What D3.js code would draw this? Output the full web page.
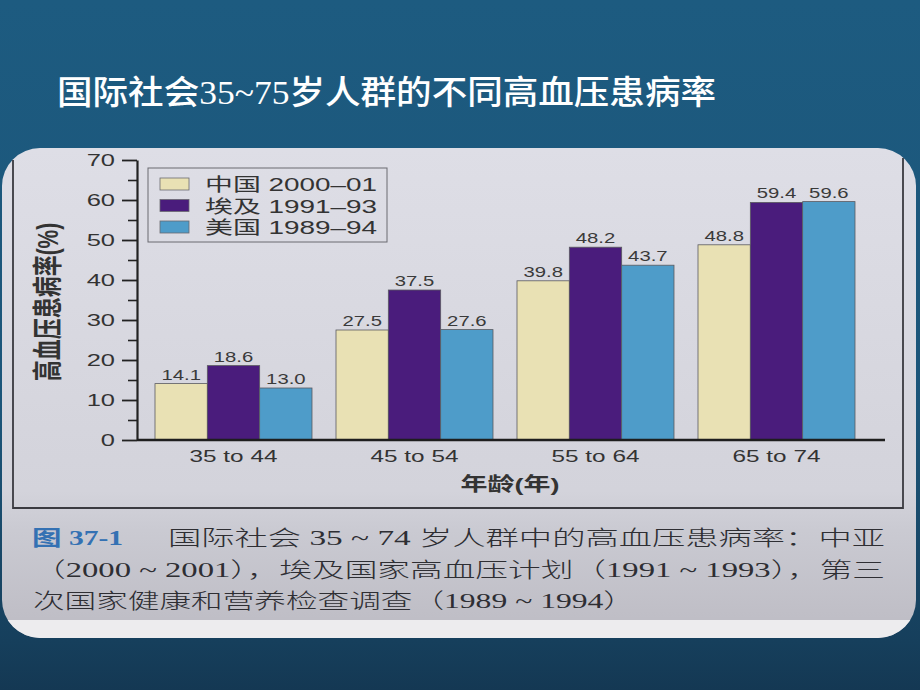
<!DOCTYPE html>
<html><head><meta charset="utf-8">
<script src="https://cdn.jsdelivr.net/npm/d3@7"></script>
<style>body{margin:0;background:#1c5a7f;} svg{display:block}</style>
</head><body>
<svg id="c" width="920" height="690"></svg>
<script>
// ---------- data ----------
const categories = ["35 to 44", "45 to 54", "55 to 64", "65 to 74"];
const seriesNames = ["中国 2000–01", "埃及 1991–93", "美国 1989–94"];
const chinaValues = [14.1, 27.5, 39.8, 48.8];
const egyptValues = [18.6, 37.5, 48.2, 59.4];
const usaValues = [13.0, 27.6, 43.7, 59.6];
const yTickValues = [0, 10, 20, 30, 40, 50, 60, 70];
const yMinorTickValues = [5, 15, 25, 35, 45, 55, 65];
const seriesColors = ["#e9e1b4", "#4a1c7c", "#4e9cc9"];
const titleText = "国际社会35~75岁人群的不同高血压患病率";
const yAxisTitle = "高血压患病率(%)";
const xAxisTitle = "年龄(年)";
const captionLabel = "图 37-1";
const captionLine1 = "国际社会 35 ~ 74 岁人群中的高血压患病率：中亚";
const captionLine2 = "（2000 ~ 2001），埃及国家高血压计划（1991 ~ 1993），第三";
const captionLine3 = "次国家健康和营养检查调查（1989 ~ 1994）";

const seriesValues = [chinaValues, egyptValues, usaValues];
const series = seriesNames.map((name, i) => ({name, color: seriesColors[i], values: seriesValues[i]}));

// ---------- canvas ----------
const svg = d3.select("#c");
const defs = svg.append("defs");
const bg = defs.append("linearGradient").attr("id", "bg").attr("x1", 0).attr("y1", 0).attr("x2", 0).attr("y2", 1);
bg.append("stop").attr("offset", "0%").attr("stop-color", "#1d5b80");
bg.append("stop").attr("offset", "60%").attr("stop-color", "#1b5579");
bg.append("stop").attr("offset", "93%").attr("stop-color", "#163f5c");
bg.append("stop").attr("offset", "100%").attr("stop-color", "#143853");
const pg = defs.append("linearGradient").attr("id", "pg").attr("x1", 0).attr("y1", 0).attr("x2", 0).attr("y2", 1);
pg.append("stop").attr("offset", "0%").attr("stop-color", "#dedee6");
pg.append("stop").attr("offset", "70%").attr("stop-color", "#d3d3db");
pg.append("stop").attr("offset", "78%").attr("stop-color", "#cacad2");
pg.append("stop").attr("offset", "96%").attr("stop-color", "#bfbec6");
defs.append("clipPath").attr("id", "panelClip")
  .append("rect").attr("x", 2).attr("y", 148).attr("width", 914).attr("height", 490).attr("rx", 38);

svg.append("rect").attr("width", 920).attr("height", 690).attr("fill", "url(#bg)");

// title
svg.append("text").attr("x", 57).attr("y", 104)
  .attr("font-family", "'Liberation Serif','Noto Sans CJK SC'")
  .attr("font-size", 33).attr("font-weight", 500).attr("fill", "#ffffff")
  .attr("textLength", 659).attr("lengthAdjust", "spacingAndGlyphs")
  .text(titleText);

// panel
const panel = svg.append("g").attr("clip-path", "url(#panelClip)");
panel.append("rect").attr("x", 2).attr("y", 148).attr("width", 914).attr("height", 490).attr("fill", "url(#pg)");
panel.append("rect").attr("x", 2).attr("y", 620).attr("width", 914).attr("height", 18).attr("fill", "#edecee");

// frame lines
const frame = svg.append("g").attr("stroke", "#3a3a40").attr("stroke-width", 1.8).attr("fill", "none");
frame.append("path").attr("d", "M13,160V508H903V158");

// ---------- scales ----------
const x0 = d3.scaleBand().domain(categories).range([131, 879]).paddingInner(0.1326).paddingOuter(0.1326);
const x1 = d3.scaleBand().domain(seriesNames).range([0, x0.bandwidth()]);
const y = d3.scaleLinear().domain([0, 70]).range([440, 160]);
const axisX = 137, plotRight = 885;

const sans = "'Liberation Sans', Arial, 'Noto Sans CJK SC'";

// y axis
const gy = svg.append("g").attr("transform", `translate(${axisX},0)`)
  .call(d3.axisLeft(y).tickValues(yTickValues).tickSize(15).tickSizeOuter(0).tickPadding(7));
gy.select(".domain").attr("stroke", "#222").attr("stroke-width", 2.2);
gy.selectAll(".tick line").attr("stroke", "#222").attr("stroke-width", 1.8);
gy.selectAll(".tick text")
  .attr("font-family", sans).attr("font-size", 17).attr("fill", "#333")
  .attr("x", 0).attr("transform", "translate(-22,0) scale(1.5,1)");

const gyMinor = svg.append("g").attr("transform", `translate(${axisX},0)`)
  .call(d3.axisLeft(y).tickValues(yMinorTickValues).tickSize(9).tickFormat(""));
gyMinor.select(".domain").remove();
gyMinor.selectAll(".tick line").attr("stroke", "#222").attr("stroke-width", 1.6);

// x axis
const gx = svg.append("g").attr("transform", "translate(0,440)")
  .call(d3.axisBottom(x0).tickSize(0).tickPadding(10));
gx.select(".domain").remove();
gx.selectAll(".tick text")
  .attr("font-family", sans).attr("font-size", 17).attr("fill", "#333")
  .attr("transform", "scale(1.43,1)")
  .attr("x", 0);

// bars
const groups = svg.append("g").selectAll("g").data(categories).join("g")
  .attr("transform", d => `translate(${x0(d)},0)`);
groups.selectAll("rect")
  .data((cat, ci) => series.map(s => ({name: s.name, color: s.color, value: s.values[ci]})))
  .join("rect")
  .attr("x", d => x1(d.name)).attr("width", x1.bandwidth())
  .attr("y", d => y(d.value)).attr("height", d => y(0) - y(d.value))
  .attr("fill", d => d.color).attr("stroke", "#5a5a60").attr("stroke-width", 0.8);
groups.selectAll("text.val")
  .data((cat, ci) => series.map(s => ({name: s.name, value: s.values[ci]})))
  .join("text").attr("class", "val")
  .attr("transform", d => `translate(${x1(d.name) + x1.bandwidth() / 2},${y(d.value) - 4}) scale(1.45,1)`)
  .attr("text-anchor", "middle").attr("font-family", sans).attr("font-size", 14).attr("fill", "#3a3a3a")
  .text(d => d.value.toFixed(1));

// baseline
svg.append("line").attr("x1", axisX).attr("x2", plotRight).attr("y1", y(0)).attr("y2", y(0))
  .attr("stroke", "#1e1e1e").attr("stroke-width", 2.6);

// axis titles
svg.append("text").attr("transform", "translate(48,302) rotate(-90) scale(1,1.4)")
  .attr("text-anchor", "middle").attr("dominant-baseline", "central")
  .attr("font-family", sans).attr("font-size", 21).attr("font-weight", 700).attr("fill", "#333")
  .text(yAxisTitle);
svg.append("text").attr("transform", "translate(510,491) scale(1.42,1)")
  .attr("text-anchor", "middle")
  .attr("font-family", sans).attr("font-size", 19).attr("font-weight", 700).attr("fill", "#333")
  .text(xAxisTitle);

// legend
const lg = svg.append("g");
lg.append("rect").attr("x", 148).attr("y", 168).attr("width", 239).attr("height", 74)
  .attr("fill", "none").attr("stroke", "#6a6a70").attr("stroke-width", 1);
const items = lg.selectAll("g.item").data(series).join("g").attr("class", "item")
  .attr("transform", (d, i) => `translate(0,${184 + i * 21.5})`);
items.append("rect").attr("x", 160).attr("y", -6).attr("width", 29).attr("height", 12)
  .attr("fill", d => d.color).attr("stroke", "#6a6a70").attr("stroke-width", 0.8);
items.append("text").attr("transform", "translate(205,7) scale(1.55,1)")
  .attr("font-family", sans).attr("font-size", 18).attr("fill", "#333")
  .text(d => d.name);

// caption
const cap = svg.append("g").attr("font-family", "'Liberation Serif','Noto Sans CJK SC'").attr("font-size", 21);
cap.append("text").attr("x", 32).attr("y", 545).attr("fill", "#3471b3").attr("font-weight", 700)
  .attr("textLength", 91).attr("lengthAdjust", "spacingAndGlyphs").text(captionLabel);
cap.append("text").attr("x", 168).attr("y", 545).attr("fill", "#2e2e33").attr("font-weight", 300)
  .attr("textLength", 717).attr("lengthAdjust", "spacingAndGlyphs").text(captionLine1);
cap.append("text").attr("x", 33).attr("y", 577).attr("fill", "#2e2e33").attr("font-weight", 300)
  .attr("textLength", 852).attr("lengthAdjust", "spacingAndGlyphs").text(captionLine2);
cap.append("text").attr("x", 33).attr("y", 608).attr("fill", "#2e2e33").attr("font-weight", 300)
  .attr("textLength", 602).attr("lengthAdjust", "spacingAndGlyphs").text(captionLine3);
</script>
</body></html>
